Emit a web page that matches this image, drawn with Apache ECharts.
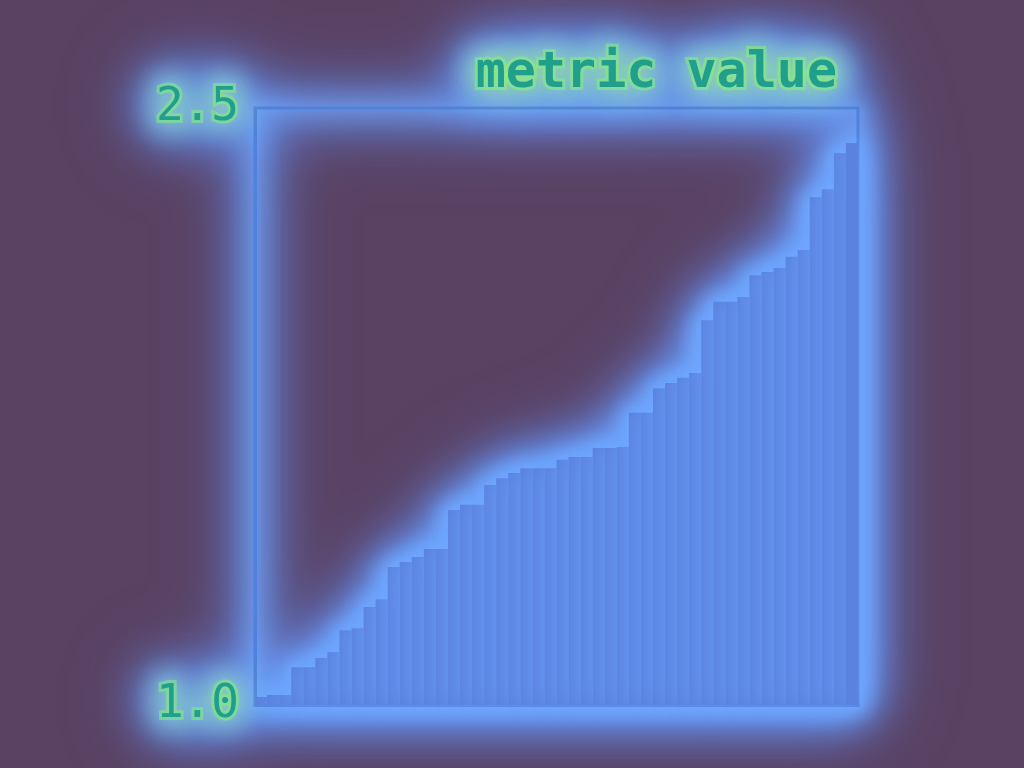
<!DOCTYPE html>
<html>
<head>
<meta charset="utf-8">
<script src="https://cdn.jsdelivr.net/npm/echarts@6/dist/echarts.min.js"></script>
<style>
    html, body { margin: 0; padding: 0; background: #5a4262; }
    #chart {
        width: 1024px; height: 768px;
        filter: drop-shadow(0 0 5px #72aaff) drop-shadow(0 0 12px #70a8ff) drop-shadow(0 0 20px #6a9cf4) drop-shadow(0 0 30px #5f78d8);
    }
</style>
</head>
<body>
<div id="chart"></div>
<script>
// 50 bars left to right
const categories = [];
for (let i = 1; i <= 50; i++) categories.push('c' + i);

const values = [
    1.02, 1.025, 1.025, 1.095, 1.095, 1.118, 1.133, 1.188, 1.193, 1.246,
    1.266, 1.347, 1.359, 1.372, 1.392, 1.392, 1.49, 1.503, 1.503, 1.553,
    1.57, 1.583, 1.595, 1.595, 1.595, 1.616, 1.623, 1.623, 1.646, 1.646,
    1.648, 1.734, 1.734, 1.796, 1.809, 1.822, 1.834, 1.967, 2.013, 2.013,
    2.025, 2.08, 2.088, 2.098, 2.126, 2.143, 2.276, 2.296, 2.387, 2.412
];

const yMin = 1.0;
const yMax = 2.5;
const axisName = 'metric value';

(function () {
    let chart = echarts.init(document.getElementById('chart'));

    const glow = '#6fa4ff';
    const lineColor = '#4f82dc';
    const textStyle = {
        color: '#1f9f8c',
        fontFamily: 'DejaVu Sans Mono',
        fontSize: 50,
        textBorderColor: 'rgba(130,240,120,0.55)',
        textBorderWidth: 6,
        textShadowColor: '#a4f070',
        textShadowBlur: 30
    };

    let option = {
        backgroundColor: 'transparent',
        animation: false,
        title: {
            text: axisName,
            right: 176,
            top: 44,
            textStyle: textStyle
        },
        grid: {
            left: 255,
            right: 166,
            top: 108,
            bottom: 63,
            show: true,
            borderColor: lineColor,
            borderWidth: 3,
            shadowBlur: 24,
            shadowColor: glow
        },
        xAxis: {
            type: 'category',
            data: categories,
            axisLabel: { show: false },
            axisTick: { show: false },
            axisLine: {
                lineStyle: { color: lineColor, width: 3 }
            }
        },
        yAxis: {
            type: 'value',
            min: yMin,
            max: yMax,
            interval: yMax - yMin,
            splitLine: { show: false },
            axisTick: { show: false },
            axisLine: {
                show: true,
                lineStyle: { color: lineColor, width: 3 }
            },
            axisLabel: Object.assign({
                margin: 16,
                formatter: function (v) { return v.toFixed(1); }
            }, textStyle, { fontSize: 46 })
        },
        series: [{
            type: 'bar',
            data: values,
            barCategoryGap: 0,
            itemStyle: {
                color: '#5a82de',
                shadowBlur: 22,
                shadowColor: glow
            }
        }]
    };

    chart.setOption(option);
})();
</script>
</body>
</html>
